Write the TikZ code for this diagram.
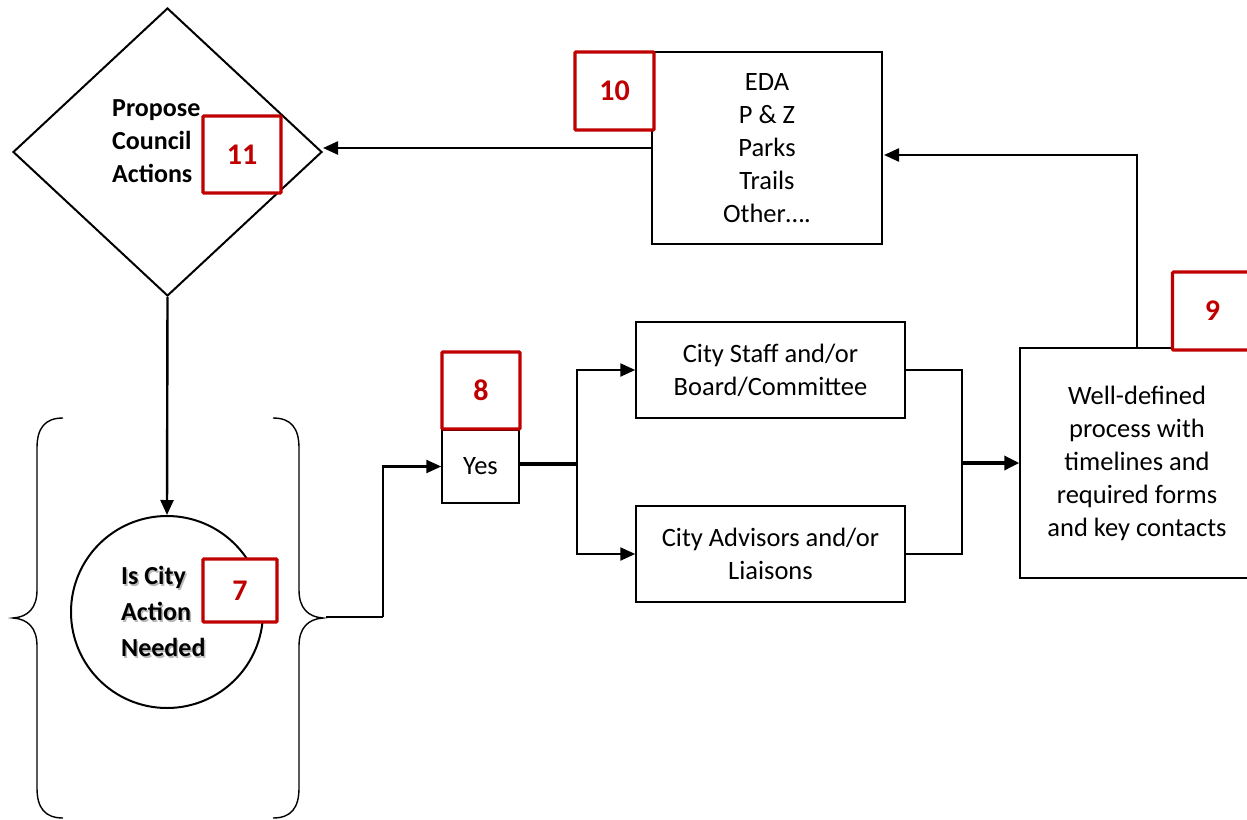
\documentclass[tikz,border=0pt]{standalone}
\usepackage{fontspec}
\setmainfont{Carlito}
\usetikzlibrary{arrows.meta,shapes.geometric}
\definecolor{cred}{HTML}{C00000}
\tikzset{
  box/.style={draw, line width=1.5pt, inner sep=0pt, align=center, font=\fontsize{26.5}{33}\selectfont},
  redbox/.style={draw=cred, line width=3.2pt, fill=white, inner sep=0pt, rounded corners=1pt, text=cred, font=\fontsize{30}{30}\selectfont\bfseries},
  conn/.style={line width=2.4pt},
  thickconn/.style={line width=3.4pt},
  arr/.style={conn, -{Triangle[length=15pt,width=13pt]}},
  thickarr/.style={thickconn, -{Triangle[length=15pt,width=14pt]}},
  brace/.style={line width=1.4pt},
  boldtxt/.style={inner sep=0pt, align=left, font=\fontsize{26}{33}\selectfont\bfseries}
}
\begin{document}
\begin{tikzpicture}[x=1pt,y=-1pt]
\useasboundingbox (0,0) rectangle (1247,819);
% diamond
\node[diamond, draw, line width=2pt, minimum width=309pt, minimum height=288pt, inner sep=0pt] (dia) at (167.5,152) {};
\node[boldtxt, anchor=west] (diatxt) at (112,141) {Propose\\Council\\Actions};
% circle
\node[circle, draw, line width=2pt, minimum size=192pt, inner sep=0pt] (circ) at (167,612) {};
\node[boldtxt, anchor=west, text=gray!55, font=\fontsize{26}{36}\selectfont\bfseries] (circshadow) at (122.5,613.5) {Is City\\Action\\Needed};
\node[boldtxt, anchor=west, font=\fontsize{26}{36}\selectfont\bfseries] (circtxt) at (121,611.5) {Is City\\Action\\Needed};
% braces
\draw[brace] (63,418) .. controls (45,418) and (37,428) .. (37,448) -- (37,590) .. controls (37,608) and (28,617) .. (13,618) .. controls (28,619) and (37,628) .. (37,646) -- (37,788) .. controls (37,808) and (45,818) .. (63,818);
\draw[brace] (273,418) .. controls (291,418) and (299,428) .. (299,448) -- (299,590) .. controls (299,608) and (308,617) .. (323,618) .. controls (308,619) and (299,628) .. (299,646) -- (299,788) .. controls (299,808) and (291,818) .. (273,818);
\coordinate (rbtip) at (326,617);
% boxes
\node[box, minimum width=230pt, minimum height=192pt] (box10) at (767,148) {EDA\\P \& Z\\Parks\\Trails\\Other….};
\node[box, minimum width=77pt, minimum height=73pt] (yes) at (480.5,466.5) {Yes};
\node[box, minimum width=269pt, minimum height=96pt] (staff) at (770.5,370) {City Staff and/or\\Board/Committee};
\node[box, minimum width=269pt, minimum height=96pt] (adv) at (770.5,554) {City Advisors and/or\\Liaisons};
\node[box, minimum width=234pt, minimum height=230pt] (box9) at (1137,463) {Well-defined\\process with\\timelines and\\required forms\\and key contacts};
% connectors
\coordinate (k10) at (884,155);
\coordinate (split) at (577,464);
\coordinate (merge) at (962,463);
\draw[arr] (box10.west) -- (box10.west -| dia.east);
\draw[arr] (dia.south) -- (circ.north);
\draw[conn] (rbtip) -- ++(57,0) coordinate (bend);
\draw[arr] (bend) |- (yes.west);
\draw[thickconn] (yes.east |- split) -- (split);
\draw[arr] (split) |- (staff.west);
\draw[arr] (split) |- (adv.west);
\draw[conn] (staff.east) -| (merge);
\draw[conn] (adv.east) -| (merge);
\draw[thickarr] (merge) -- (box9.west);
\draw[arr] (box9.north) |- (k10);
% red markers
\node[redbox, minimum width=78pt, minimum height=77pt] (r11) at (242,154.5) {11};
\node[redbox, minimum width=79pt, minimum height=78pt] (r10) at (614.5,91) {10};
\node[redbox, minimum width=78pt, minimum height=77pt] (r8) at (481,390.5) {8};
\node[redbox, minimum width=74pt, minimum height=63pt] (r7) at (240,590.5) {7};
\node[redbox, minimum width=80pt, minimum height=78pt] (r9) at (1212.5,311) {9};
\end{tikzpicture}
\end{document}
